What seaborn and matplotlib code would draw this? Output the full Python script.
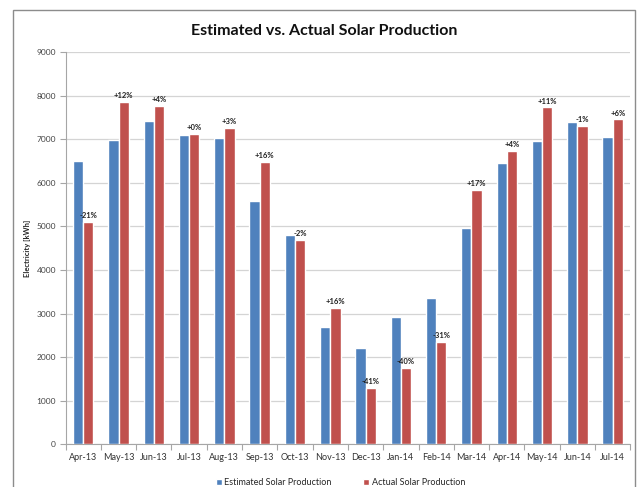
import pandas as pd
import seaborn as sns
import matplotlib.pyplot as plt
from matplotlib.patches import Rectangle
from matplotlib.ticker import FixedLocator

months = ['Apr-13', 'May-13', 'Jun-13', 'Jul-13', 'Aug-13', 'Sep-13', 'Oct-13', 'Nov-13',
          'Dec-13', 'Jan-14', 'Feb-14', 'Mar-14', 'Apr-14', 'May-14', 'Jun-14', 'Jul-14']
estimated = [6490, 6990, 7425, 7095, 7035, 5590, 4805, 2700,
             2205, 2925, 3365, 4975, 6450, 6950, 7395, 7055]
actual = [5100, 7860, 7765, 7125, 7265, 6485, 4700, 3140,
          1305, 1760, 2345, 5830, 6735, 7730, 7310, 7455]
pct_labels = ['-21%', '+12%', '+4%', '+0%', '+3%', '+16%', '-2%', '+16%',
              '-41%', '-40%', '-31%', '+17%', '+4%', '+11%', '-1%', '+6%']

est_name = 'Estimated Solar Production'
act_name = 'Actual Solar Production'

df = pd.DataFrame({
    'Month': months * 2,
    'Electricity': estimated + actual,
    'Series': [est_name] * len(months) + [act_name] * len(months),
})

sns.set_style('white')
plt.rcParams['font.family'] = ['Lato', 'DejaVu Sans']

fig = plt.figure(figsize=(6.41, 4.87), dpi=100)
ax = fig.add_axes([0.1023, 0.0873, 0.881, 0.806])

sns.barplot(data=df, x='Month', y='Electricity', hue='Series',
            palette=['#4F81BD', '#C0504D'], width=0.58, saturation=1,
            errorbar=None, ax=ax, zorder=3)

# percentage labels on top of the actual bars
for bar, lab in zip(ax.containers[1], pct_labels):
    ax.annotate(lab, (bar.get_x() + bar.get_width() / 2, bar.get_height()),
                xytext=(0, 2), textcoords='offset points',
                ha='center', va='bottom', fontsize=5.5, fontweight='bold', color='#222222')

ax.set_ylim(0, 9000)
ax.set_yticks(range(0, 9001, 1000))
ax.set_xlim(-0.5, len(months) - 0.5)
ax.yaxis.grid(True, color='#d4d4d4', linewidth=0.9, zorder=0)
ax.set_axisbelow(True)

for s in ['top', 'right']:
    ax.spines[s].set_visible(False)
ax.spines['left'].set_color('#a6a6a6')
ax.spines['bottom'].set_color('#a6a6a6')

ax.tick_params(axis='y', labelsize=6, colors='#a6a6a6', labelcolor='#444444',
               length=4, width=0.8, left=True, pad=3)
ax.tick_params(axis='x', which='major', labelsize=6.5, labelcolor='#333333', length=0, pad=6)
ax.xaxis.set_minor_locator(FixedLocator([i - 0.5 for i in range(len(months) + 1)]))
ax.tick_params(axis='x', which='minor', bottom=True, length=4, width=0.8, colors='#a6a6a6')

ax.set_xlabel('')
ax.set_ylabel('Electricity [kWh]', fontsize=5.5, fontweight='bold', labelpad=4)

ax.legend(loc='upper center', bbox_to_anchor=(0.487, -0.065), ncol=2, frameon=False,
          fontsize=6.5, handlelength=0.6, handleheight=0.6, handletextpad=0.3,
          columnspacing=3.5)

fig.text(0.505, 0.937, 'Estimated vs. Actual Solar Production', ha='center', va='center',
         fontsize=11.5, fontweight='bold', color='#111111')

fig.patches.append(Rectangle((13 / 641, -0.01), 622 / 641, 1 - 10 / 487 + 0.01,
                             transform=fig.transFigure, fill=False,
                             edgecolor='#8c8c8c', linewidth=1))

plt.savefig('out.png', dpi=100)
